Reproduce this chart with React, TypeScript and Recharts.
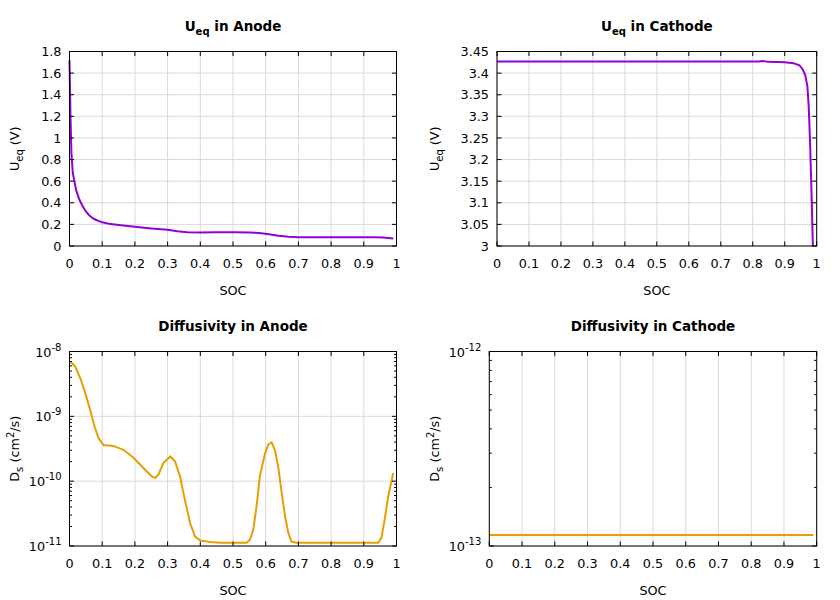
import React from 'react';
import { LineChart, Line, XAxis, YAxis, CartesianGrid } from 'recharts';

// ---------- data ----------
const anodeUeqSoc = [0, 0.003, 0.006, 0.01, 0.02, 0.03, 0.04, 0.05, 0.06, 0.07, 0.08, 0.09, 0.1, 0.12, 0.15, 0.2, 0.25, 0.3, 0.33, 0.36, 0.4, 0.45, 0.5, 0.55, 0.58, 0.61, 0.64, 0.67, 0.7, 0.8, 0.9, 0.93, 0.96, 0.99];
const anodeUeqV = [1.72, 1.2, 0.85, 0.68, 0.52, 0.43, 0.37, 0.32, 0.285, 0.26, 0.243, 0.23, 0.22, 0.206, 0.195, 0.178, 0.163, 0.15, 0.137, 0.128, 0.126, 0.127, 0.127, 0.126, 0.12, 0.108, 0.094, 0.086, 0.081, 0.08, 0.08, 0.082, 0.079, 0.07];

const cathodeUeqSoc = [0, 0.1, 0.2, 0.3, 0.4, 0.5, 0.6, 0.7, 0.8, 0.82, 0.83, 0.85, 0.9, 0.927, 0.946, 0.956, 0.964, 0.971, 0.975, 0.979, 0.982, 0.985, 0.988];
const cathodeUeqV = [3.427, 3.427, 3.427, 3.427, 3.427, 3.427, 3.427, 3.427, 3.427, 3.427, 3.428, 3.426, 3.425, 3.423, 3.418, 3.409, 3.396, 3.369, 3.323, 3.246, 3.169, 3.091, 3.0];

const anodeDsSoc = [0.002, 0.017, 0.033, 0.048, 0.063, 0.078, 0.089, 0.104, 0.134, 0.165, 0.196, 0.226, 0.252, 0.262, 0.272, 0.287, 0.308, 0.323, 0.338, 0.353, 0.369, 0.384, 0.399, 0.43, 0.46, 0.542, 0.552, 0.562, 0.572, 0.582, 0.598, 0.608, 0.618, 0.628, 0.638, 0.649, 0.659, 0.669, 0.679, 0.694, 0.944, 0.954, 0.964, 0.975, 0.99];
const anodeDsVal = [7.0e-9, 5.9e-9, 3.9e-9, 2.3e-9, 1.26e-9, 6.6e-10, 4.6e-10, 3.6e-10, 3.5e-10, 3.05e-10, 2.3e-10, 1.6e-10, 1.18e-10, 1.12e-10, 1.26e-10, 1.9e-10, 2.4e-10, 2.0e-10, 1.18e-10, 5.1e-11, 2.24e-11, 1.4e-11, 1.22e-11, 1.15e-11, 1.12e-11, 1.12e-11, 1.26e-11, 1.8e-11, 4.1e-11, 1.18e-10, 2.7e-10, 3.7e-10, 3.95e-10, 3.05e-10, 1.7e-10, 6.6e-11, 2.9e-11, 1.6e-11, 1.17e-11, 1.12e-11, 1.12e-11, 1.35e-11, 2.6e-11, 5.9e-11, 1.34e-10];

const cathodeDsSoc = [0, 0.99];
const cathodeDsVal = [1.14e-13, 1.14e-13];

const socTicks = [0, 0.1, 0.2, 0.3, 0.4, 0.5, 0.6, 0.7, 0.8, 0.9, 1];
const anodeUeqTicks = [0, 0.2, 0.4, 0.6, 0.8, 1, 1.2, 1.4, 1.6, 1.8];
const cathodeUeqTicks = [3, 3.05, 3.1, 3.15, 3.2, 3.25, 3.3, 3.35, 3.4, 3.45];
const anodeDsMajor = [1e-11, 1e-10, 1e-9, 1e-8];
const anodeDsMinor = [2e-11, 3e-11, 4e-11, 5e-11, 6e-11, 7e-11, 8e-11, 9e-11, 2e-10, 3e-10, 4e-10, 5e-10, 6e-10, 7e-10, 8e-10, 9e-10, 2e-9, 3e-9, 4e-9, 5e-9, 6e-9, 7e-9, 8e-9, 9e-9];
const cathodeDsMajor = [1e-13, 1e-12];
const cathodeDsMinor = [2e-13, 3e-13, 4e-13, 5e-13, 6e-13, 7e-13, 8e-13, 9e-13];

const build = (xs: number[], ys: number[]) => xs.map((x, i) => ({ x, y: ys[i] }));

const FONT = 'DejaVu Sans, sans-serif';
const FS = 12.8;
const FT = 13.5;
const FSUB = 10;
const PURPLE = '#9400d3';
const ORANGE = '#e69f00';
const GRID = '#d9d9d9';
const XH = 30;
const YW = 40;

type Box = { L: number; R: number; T: number; B: number };

const expOf = (v: number) => Math.round(Math.log10(v));

function makeXTick(b: Box) {
  return (props: any) => {
    const { x, payload } = props;
    return (
      <g>
        <line x1={x} x2={x} y1={b.B} y2={b.B - 4.5} stroke="#000" />
        <line x1={x} x2={x} y1={b.T} y2={b.T + 4.5} stroke="#000" />
        <text x={x} y={b.B + 22} textAnchor="middle" fontFamily={FONT} fontSize={FS} fill="#000">
          {String(payload.value)}
        </text>
      </g>
    );
  };
}

function makeYTick(b: Box, majors: number[], log?: boolean) {
  return (props: any) => {
    const { y, payload } = props;
    const v = payload.value as number;
    const isMajor = majors.some((m: number) => (m === 0 ? v === 0 : Math.abs(m - v) / Math.abs(m) < 1e-6));
    const len = isMajor ? 4.5 : 2.5;
    return (
      <g>
        <line x1={b.L} x2={b.L + len} y1={y} y2={y} stroke="#000" />
        <line x1={b.R} x2={b.R - len} y1={y} y2={y} stroke="#000" />
        {isMajor &&
          (log ? (
            <text x={b.L - 8} y={y + 5} textAnchor="end" fontFamily={FONT} fontSize={FS} fill="#000">
              10
              <tspan dy={-6} fontSize={FSUB}>{String(expOf(v))}</tspan>
            </text>
          ) : (
            <text x={b.L - 8} y={y + 4.6} textAnchor="end" fontFamily={FONT} fontSize={FS} fill="#000">
              {String(v)}
            </text>
          ))}
      </g>
    );
  };
}

function makeDecor(b: Box, title: React.ReactNode, ylabel: React.ReactNode) {
  return () => {
    const cx = (b.L + b.R) / 2;
    const cy = (b.T + b.B) / 2;
    return (
      <g>
        <rect x={b.L} y={b.T} width={b.R - b.L} height={b.B - b.T} fill="none" stroke="#000" strokeWidth={1} />
        <text x={cx} y={b.T - 20.5} textAnchor="middle" fontFamily={FONT} fontSize={FT} fontWeight="bold" fill="#000">
          {title}
        </text>
        <text x={cx} y={b.B + 48.5} textAnchor="middle" fontFamily={FONT} fontSize={FS} fill="#000">
          SOC
        </text>
        <text
          x={0}
          y={0}
          transform={`translate(${19}, ${cy}) rotate(-90)`}
          textAnchor="middle"
          fontFamily={FONT}
          fontSize={FS}
          fill="#000"
        >
          {ylabel}
        </text>
      </g>
    );
  };
}

const ueqTitle = (where: string) => (
  <>
    <tspan>U</tspan>
    <tspan dy={4} fontSize={FSUB}>eq</tspan>
    <tspan dy={-4}>{` in ${where}`}</tspan>
  </>
);
const ueqYLabel = (
  <>
    <tspan>U</tspan>
    <tspan dy={4} fontSize={FSUB}>eq</tspan>
    <tspan dy={-4}> (V)</tspan>
  </>
);
const dsYLabel = (
  <>
    <tspan>D</tspan>
    <tspan dy={4} fontSize={FSUB}>s</tspan>
    <tspan dy={-4}> (cm</tspan>
    <tspan dy={-5.5} fontSize={FSUB}>2</tspan>
    <tspan dy={5.5}>/s)</tspan>
  </>
);

type PanelProps = {
  left: number;
  top: number;
  box: Box;
  data: { x: number; y: number }[];
  color: string;
  yDomain: [number, number];
  yTicks: number[];
  majors: number[];
  log?: boolean;
  title: React.ReactNode;
  ylabel: React.ReactNode;
};

function Panel(p: PanelProps) {
  const { box } = p;
  const Decor = makeDecor(box, p.title, p.ylabel);
  return (
    <div style={{ position: 'absolute', left: p.left, top: p.top, width: 420, height: 300 }}>
      <LineChart
        width={420}
        height={300}
        data={p.data}
        margin={{ top: box.T, bottom: 300 - box.B - XH, left: box.L - YW, right: 420 - box.R }}
      >
        <CartesianGrid stroke={GRID} verticalValues={socTicks} horizontalValues={p.majors} />
        <XAxis
          dataKey="x"
          type="number"
          domain={[0, 1]}
          ticks={socTicks}
          height={XH}
          axisLine={false}
          tickLine={false}
          interval={0}
          tick={makeXTick(box)}
          label={{ content: Decor }}
        />
        <YAxis
          type="number"
          domain={p.yDomain}
          scale={p.log ? 'log' : 'linear'}
          ticks={p.yTicks}
          width={YW}
          axisLine={false}
          tickLine={false}
          interval={0}
          allowDataOverflow
          tick={makeYTick(box, p.majors, p.log)}
        />
        <Line
          dataKey="y"
          type="linear"
          stroke={p.color}
          strokeWidth={2}
          dot={false}
          isAnimationActive={false}
        />
      </LineChart>
    </div>
  );
}

export default function App() {
  const boxTL: Box = { L: 69.5, R: 396.5, T: 51.5, B: 246 };
  const boxTR: Box = { L: 77, R: 396.7, T: 51.5, B: 246 };
  const boxBL: Box = { L: 69.5, R: 396.5, T: 51.5, B: 246 };
  const boxBR: Box = { L: 69.3, R: 396.7, T: 51.5, B: 246 };
  return (
    <div style={{ position: 'absolute', left: 0, top: 0, width: 840, height: 600, background: '#fff' }}>
      <Panel
        left={0}
        top={0}
        box={boxTL}
        data={build(anodeUeqSoc, anodeUeqV)}
        color={PURPLE}
        yDomain={[0, 1.8]}
        yTicks={anodeUeqTicks}
        majors={anodeUeqTicks}
        title={ueqTitle('Anode')}
        ylabel={ueqYLabel}
      />
      <Panel
        left={420}
        top={0}
        box={boxTR}
        data={build(cathodeUeqSoc, cathodeUeqV)}
        color={PURPLE}
        yDomain={[3, 3.45]}
        yTicks={cathodeUeqTicks}
        majors={cathodeUeqTicks}
        title={ueqTitle('Cathode')}
        ylabel={ueqYLabel}
      />
      <Panel
        left={0}
        top={300}
        box={boxBL}
        data={build(anodeDsSoc, anodeDsVal)}
        color={ORANGE}
        yDomain={[1e-11, 1e-8]}
        yTicks={[...anodeDsMajor, ...anodeDsMinor].sort((a, b) => a - b)}
        majors={anodeDsMajor}
        log
        title="Diffusivity in Anode"
        ylabel={dsYLabel}
      />
      <Panel
        left={420}
        top={300}
        box={boxBR}
        data={build(cathodeDsSoc, cathodeDsVal)}
        color={ORANGE}
        yDomain={[1e-13, 1e-12]}
        yTicks={[...cathodeDsMajor, ...cathodeDsMinor].sort((a, b) => a - b)}
        majors={cathodeDsMajor}
        log
        title="Diffusivity in Cathode"
        ylabel={dsYLabel}
      />
    </div>
  );
}
